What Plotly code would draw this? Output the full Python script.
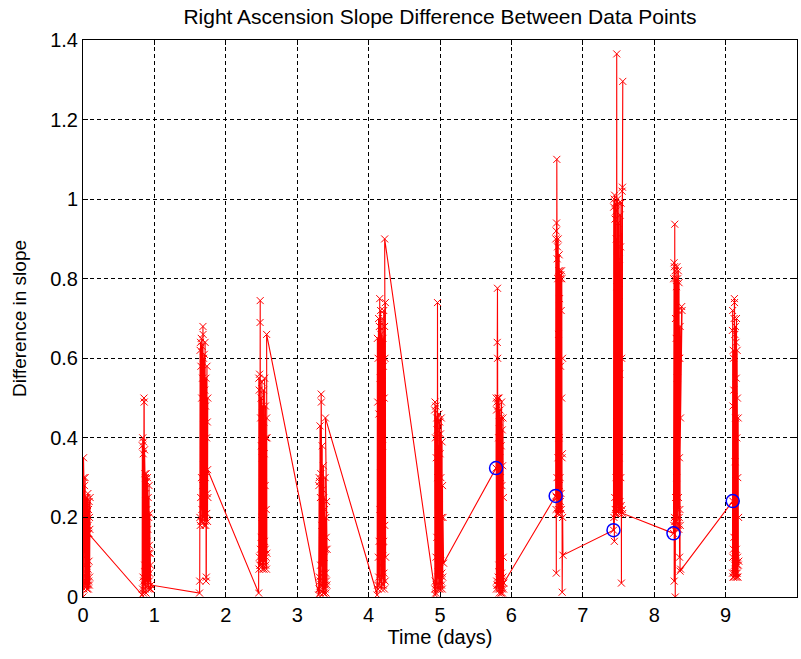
import plotly.graph_objects as go

# ---- data: each pass (cluster) of observations, time in days and slope difference ----
p0_t = [0.000,0.002,0.005,0.007,0.009,0.012,0.014,0.016,0.019,0.021,0.023,0.026,0.028,0.030,0.033,0.035,0.037,0.040,0.042,0.044,0.047,0.049,0.051,0.054,0.056,0.058,0.061,0.063,0.065,0.068,0.070,0.072,0.075,0.077,0.079,0.082,0.084,0.086,0.089,0.091,0.093,0.096,0.100,0.074]
p0_v = [0.00,0.22,0.03,0.35,0.05,0.30,0.02,0.24,0.10,0.28,0.04,0.20,0.12,0.30,0.03,0.18,0.08,0.25,0.04,0.21,0.03,0.17,0.06,0.25,0.02,0.19,0.05,0.23,0.03,0.26,0.07,0.18,0.02,0.22,0.04,0.16,0.09,0.24,0.03,0.20,0.05,0.17,0.25,0.16]

p1_t = [0.828,0.831,0.834,0.837,0.840,0.843,0.845,0.848,0.851,0.854,0.857,0.860,0.862,0.865,0.868,0.871,0.874,0.877,0.879,0.882,0.885,0.888,0.891,0.894,0.896,0.899,0.902,0.905,0.908,0.911,0.913,0.916,0.919,0.922,0.925,0.928,0.930,0.933,0.936,0.939,0.942,0.945,0.948,0.952]
p1_v = [0.005,0.38,0.02,0.40,0.05,0.36,0.01,0.39,0.04,0.50,0.49,0.03,0.37,0.08,0.31,0.02,0.30,0.06,0.26,0.01,0.31,0.10,0.29,0.04,0.22,0.14,0.30,0.03,0.17,0.07,0.25,0.02,0.20,0.11,0.28,0.04,0.13,0.06,0.21,0.02,0.11,0.08,0.02,0.03]

p2_t = [1.632,1.635,1.638,1.640,1.643,1.646,1.649,1.652,1.654,1.657,1.660,1.663,1.666,1.668,1.671,1.674,1.677,1.680,1.682,1.685,1.688,1.691,1.694,1.696,1.699,1.702,1.705,1.708,1.710,1.713,1.716,1.719,1.722,1.724,1.727,1.730,1.733,1.736,1.738,1.741,1.744,1.747,1.750,1.745]
p2_v = [0.01,0.04,0.20,0.62,0.18,0.64,0.25,0.58,0.19,0.65,0.30,0.50,0.22,0.63,0.19,0.55,0.28,0.68,0.66,0.20,0.60,0.35,0.45,0.18,0.61,0.24,0.52,0.19,0.64,0.30,0.48,0.18,0.55,0.04,0.05,0.40,0.21,0.58,0.26,0.44,0.19,0.50,0.25,0.32]

p3_t = [2.460,2.463,2.466,2.468,2.471,2.474,2.477,2.480,2.482,2.485,2.488,2.491,2.494,2.496,2.499,2.502,2.505,2.508,2.510,2.513,2.516,2.519,2.522,2.524,2.527,2.530,2.533,2.536,2.538,2.541,2.544,2.547,2.550,2.552,2.555,2.558,2.561,2.564,2.566,2.569,2.572,2.575,2.578,2.572]
p3_v = [0.01,0.55,0.07,0.52,0.10,0.56,0.08,0.69,0.745,0.12,0.45,0.08,0.50,0.15,0.38,0.09,0.54,0.20,0.35,0.07,0.48,0.12,0.30,0.08,0.52,0.10,0.44,0.07,0.36,0.14,0.55,0.09,0.28,0.12,0.48,0.08,0.40,0.10,0.22,0.07,0.45,0.11,0.40,0.66]

p4_t = [3.300,3.303,3.306,3.308,3.311,3.314,3.317,3.320,3.322,3.325,3.328,3.331,3.334,3.336,3.339,3.342,3.345,3.348,3.350,3.353,3.356,3.359,3.362,3.364,3.367,3.370,3.373,3.376,3.378,3.381,3.384,3.387,3.390,3.392,3.395,3.398,3.401,3.404,3.406,3.409,3.412,3.415,3.418,3.395]
p4_v = [0.005,0.28,0.02,0.30,0.05,0.29,0.01,0.43,0.04,0.25,0.08,0.31,0.03,0.51,0.49,0.03,0.18,0.08,0.38,0.02,0.27,0.06,0.14,0.01,0.33,0.06,0.25,0.01,0.10,0.04,0.22,0.03,0.30,0.02,0.12,0.06,0.20,0.01,0.15,0.04,0.24,0.03,0.12,0.45]

p5_t = [4.120,4.123,4.126,4.128,4.131,4.134,4.137,4.140,4.142,4.145,4.148,4.151,4.154,4.156,4.159,4.162,4.165,4.168,4.170,4.173,4.176,4.179,4.182,4.184,4.187,4.190,4.193,4.196,4.198,4.201,4.204,4.207,4.210,4.212,4.215,4.218,4.221,4.224,4.226,4.229,4.232,4.235,4.238,4.225]
p5_v = [0.005,0.65,0.03,0.49,0.02,0.60,0.10,0.70,0.05,0.46,0.14,0.68,0.03,0.75,0.22,0.55,0.04,0.72,0.33,0.66,0.08,0.43,0.02,0.62,0.26,0.70,0.05,0.38,0.12,0.65,0.03,0.58,0.14,0.72,0.06,0.50,0.02,0.68,0.18,0.60,0.04,0.74,0.10,0.90]

p6_t = [4.935,4.925,4.928,4.931,4.934,4.937,4.940,4.942,4.945,4.948,4.951,4.954,4.956,4.959,4.962,4.965,4.968,4.970,4.973,4.976,4.979,4.982,4.984,4.987,4.990,4.993,4.996,4.998,5.001,5.004,5.007,5.010,5.012,5.015,5.018,5.021,5.024,5.026,5.029,5.032,5.035,5.038,5.042,5.050]
p6_v = [0.005,0.47,0.02,0.49,0.04,0.40,0.01,0.48,0.10,0.35,0.03,0.45,0.15,0.42,0.02,0.74,0.30,0.05,0.44,0.08,0.38,0.02,0.46,0.06,0.25,0.03,0.44,0.07,0.36,0.02,0.41,0.09,0.30,0.04,0.45,0.03,0.20,0.06,0.39,0.02,0.28,0.05,0.20,0.085]

p7_t = [5.785,5.787,5.790,5.792,5.795,5.797,5.800,5.802,5.805,5.807,5.810,5.812,5.815,5.817,5.820,5.822,5.825,5.827,5.830,5.832,5.835,5.837,5.840,5.842,5.845,5.847,5.850,5.852,5.855,5.857,5.860,5.862,5.865,5.867,5.870,5.872,5.875,5.877,5.880,5.882,5.885,5.887,5.890,5.893]
p7_v = [0.324,0.50,0.02,0.47,0.04,0.49,0.03,0.64,0.776,0.60,0.03,0.50,0.05,0.48,0.02,0.40,0.08,0.50,0.01,0.44,0.06,0.35,0.02,0.47,0.04,0.30,0.03,0.45,0.01,0.38,0.06,0.49,0.02,0.28,0.04,0.42,0.01,0.33,0.05,0.45,0.10,0.25,0.02,0.035]

p8_t = [6.620,6.622,6.625,6.627,6.629,6.632,6.634,6.636,6.639,6.641,6.643,6.646,6.648,6.650,6.653,6.655,6.657,6.660,6.662,6.664,6.667,6.669,6.671,6.674,6.676,6.678,6.681,6.683,6.685,6.688,6.690,6.692,6.695,6.697,6.699,6.702,6.704,6.706,6.709,6.711,6.713,6.716,6.718,6.722]
p8_v = [0.254,0.90,0.22,0.92,0.06,0.94,0.25,1.10,0.30,0.85,0.25,0.88,0.21,0.80,0.35,0.90,0.22,0.66,0.21,0.82,0.40,0.86,0.28,0.75,0.22,0.82,0.30,0.80,0.24,0.58,0.21,0.81,0.26,0.72,0.22,0.82,0.50,0.80,0.35,0.012,0.36,0.60,0.20,0.105]

p9_t = [7.430,7.433,7.436,7.439,7.442,7.445,7.448,7.451,7.454,7.457,7.460,7.463,7.466,7.469,7.472,7.475,7.478,7.481,7.484,7.487,7.490,7.493,7.496,7.499,7.502,7.505,7.508,7.511,7.514,7.517,7.520,7.523,7.526,7.529,7.532,7.535,7.538,7.541,7.544,7.550,7.560,7.556,7.553,7.560]
p9_v = [0.168,0.98,0.20,1.00,0.14,1.01,0.25,0.95,0.22,0.99,0.21,0.97,0.30,0.90,0.21,1.365,0.23,0.78,0.40,1.00,0.22,0.94,0.26,0.74,0.21,0.99,0.35,0.85,0.22,0.56,0.24,0.96,0.21,0.88,0.30,0.99,0.23,0.035,0.60,1.02,1.296,1.03,0.22,0.21]

p10_t = [8.270,8.273,8.275,8.278,8.280,8.283,8.285,8.288,8.290,8.293,8.295,8.298,8.300,8.303,8.305,8.308,8.310,8.313,8.315,8.318,8.320,8.323,8.325,8.328,8.330,8.333,8.335,8.338,8.340,8.343,8.345,8.348,8.350,8.390,8.385,8.353,8.355,8.358,8.360,8.363,8.365,8.368,8.370,8.362]
p10_v = [0.16,0.80,0.18,0.84,0.04,0.83,0.20,0.937,0.19,0.82,0.00,0.70,0.25,0.80,0.18,0.65,0.19,0.78,0.30,0.83,0.17,0.55,0.20,0.80,0.22,0.72,0.18,0.82,0.25,0.60,0.17,0.79,0.20,0.72,0.73,0.35,0.10,0.60,0.22,0.68,0.18,0.45,0.07,0.065]

p11_t = [9.100,9.095,9.097,9.099,9.101,9.103,9.105,9.107,9.109,9.111,9.113,9.115,9.117,9.119,9.121,9.123,9.125,9.127,9.129,9.131,9.133,9.135,9.137,9.139,9.141,9.143,9.145,9.147,9.149,9.151,9.153,9.155,9.157,9.159,9.161,9.163,9.165,9.167,9.170,9.173,9.176,9.179,9.182,9.185]
p11_v = [0.241,0.67,0.06,0.72,0.10,0.48,0.05,0.62,0.12,0.60,0.05,0.52,0.15,0.70,0.06,0.75,0.74,0.08,0.66,0.07,0.34,0.10,0.68,0.05,0.45,0.09,0.64,0.06,0.55,0.12,0.70,0.05,0.40,0.08,0.62,0.06,0.50,0.10,0.30,0.05,0.45,0.08,0.20,0.09]

pass_times = [p0_t, p1_t, p2_t, p3_t, p4_t, p5_t, p6_t, p7_t, p8_t, p9_t, p10_t, p11_t]
pass_values = [p0_v, p1_v, p2_v, p3_v, p4_v, p5_v, p6_v, p7_v, p8_v, p9_v, p10_v, p11_v]
circled_passes = [7, 8, 9, 10, 11]   # first point of these passes is circled

title_text = "Right Ascension Slope Difference Between Data Points"
x_label = "Time (days)"
y_label = "Difference in slope"

# ---- build ----
t_all, v_all = [], []
for ts, vs in zip(pass_times, pass_values):
    for t, v in zip(ts, vs):
        t_all.append(t)
        v_all.append(v)
circ_t = [pass_times[i][0] for i in circled_passes]
circ_v = [pass_values[i][0] for i in circled_passes]

FONT = "Liberation Sans, Arial, sans-serif"

fig = go.Figure()
fig.add_trace(go.Scatter(
    x=t_all, y=v_all, mode="lines+markers",
    line=dict(color="#ff0000", width=1.1),
    marker=dict(symbol="x-thin-open", size=7, color="#ff0000",
                line=dict(color="#ff0000", width=1)),
    showlegend=False, hoverinfo="x+y"))
fig.add_trace(go.Scatter(
    x=circ_t, y=circ_v, mode="markers",
    marker=dict(symbol="circle-open", size=13, color="#0000ff",
                line=dict(color="#0000ff", width=1.5)),
    showlegend=False))

axis_common = dict(
    showgrid=True, gridcolor="black", gridwidth=1, griddash="4px,3px",
    showline=True, linecolor="black", linewidth=1, mirror="allticks",
    ticks="inside", ticklen=5, tickcolor="black", tickwidth=1,
    zeroline=False, tickfont=dict(family=FONT, size=20, color="black"),
)

fig.update_layout(
    width=801, height=659,
    margin=dict(l=83, r=4, t=40, b=62),
    paper_bgcolor="white", plot_bgcolor="white",
    font=dict(family=FONT, color="black"),
    title=dict(text=title_text, x=0.5, xref="paper", xanchor="center",
               y=1 - 17 / 659, yref="container", yanchor="middle",
               font=dict(family=FONT, size=21, color="black")),
    xaxis=dict(range=[0, 10], tickmode="linear", tick0=0, dtick=1,
               title=dict(text=x_label, standoff=4,
                          font=dict(family=FONT, size=20, color="black")),
               **axis_common),
    yaxis=dict(range=[0, 1.4], tickmode="linear", tick0=0, dtick=0.2,
               title=dict(text=y_label, standoff=18,
                          font=dict(family=FONT, size=19, color="black")),
               **axis_common),
)

fig.write_html("out.html")
